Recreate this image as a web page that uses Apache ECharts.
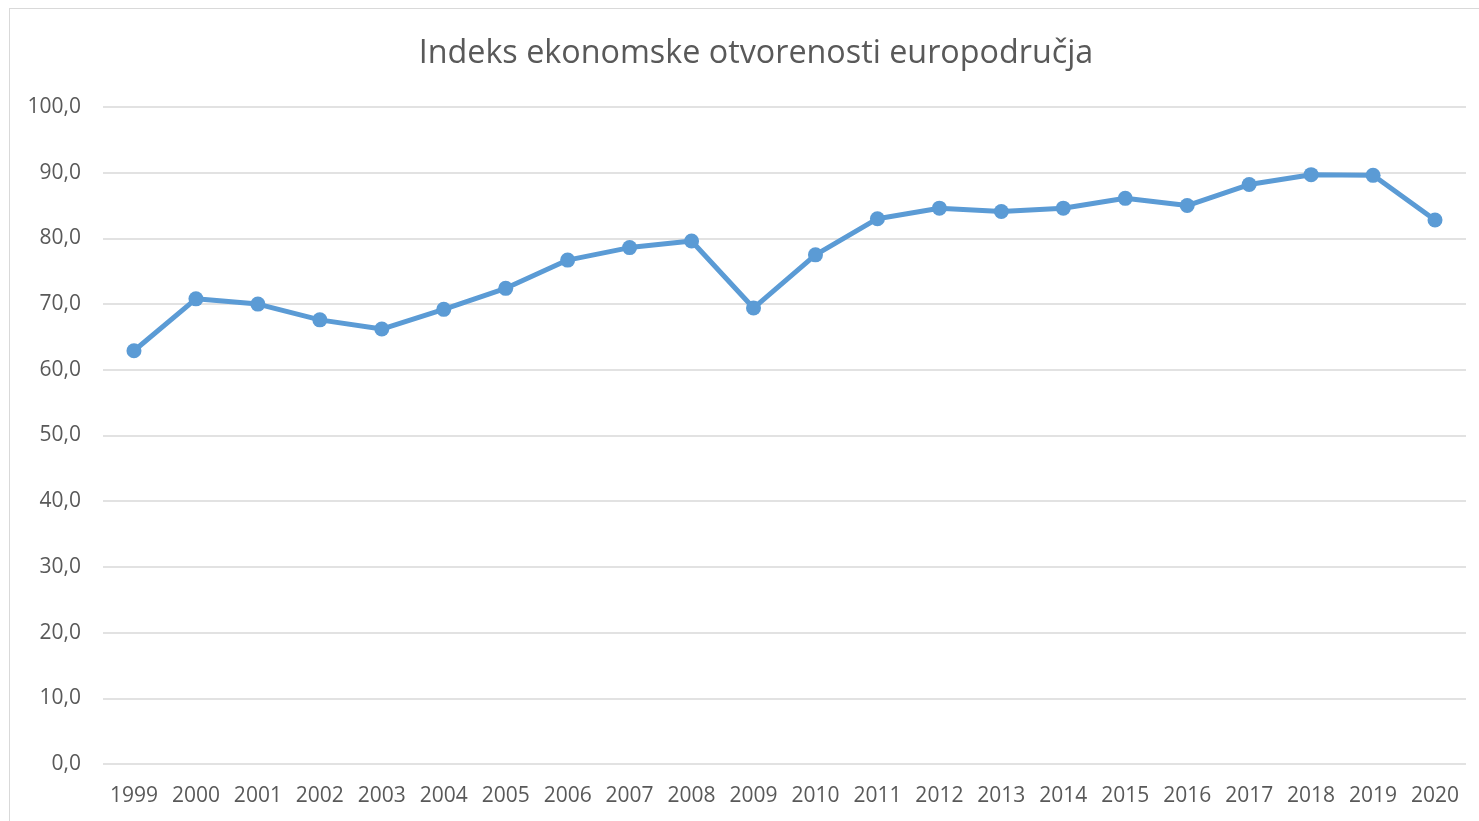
<!DOCTYPE html>
<html>
<head>
<meta charset="utf-8">
<script src="https://cdn.jsdelivr.net/npm/echarts@6/dist/echarts.min.js"></script>
<style>
    html,body{margin:0;padding:0;background:#fff;}
    #frame{
        position:absolute;left:9px;top:8px;width:1475px;height:820px;
        border:1px solid #d9d9d9;box-sizing:border-box;
    }
    #chart{position:absolute;left:0;top:0;width:1479px;height:821px;}
</style>
</head>
<body>
<div id="frame"></div>
<div id="chart"></div>
<script>
    var years=['1999','2000','2001','2002','2003','2004','2005','2006','2007','2008','2009',
        '2010','2011','2012','2013','2014','2015','2016','2017','2018','2019','2020'];
    var openness=[62.9,70.8,70.0,67.6,66.2,69.2,72.4,76.7,78.6,79.6,69.4,
        77.5,83.0,84.6,84.1,84.6,86.1,85.0,88.2,89.7,89.6,82.8];
    var yTicks={min:0,max:100,interval:10};

    var chart=echarts.init(document.getElementById('chart'));
    var txt='#595959';
    var font='"Open Sans", sans-serif';
    chart.setOption({
        animation:false,
        title:{
            left:751,
            textAlign:'center',
            top:33,
            text:'Indeks ekonomske otvorenosti europodručja',
            textStyle:{color:txt,fontSize:32.3,fontWeight:'normal',fontFamily:font}
        },
        grid:{left:103,right:13,top:107,bottom:57},
        xAxis:{
            type:'category',
            data:years,
            boundaryGap:true,
            axisLine:{show:false},
            axisTick:{show:false},
            axisLabel:{color:txt,fontSize:21,fontFamily:font,margin:22,interval:0}
        },
        yAxis:{
            type:'value',
            min:yTicks.min,
            max:yTicks.max,
            interval:yTicks.interval,
            axisLine:{show:false},
            axisTick:{show:false},
            splitLine:{lineStyle:{color:'#d9d9d9',width:1.5}},
            axisLabel:{
                color:txt,fontSize:21,fontFamily:font,margin:22,
                formatter:function(v){return v.toFixed(1).replace('.',',');}
            }
        },
        series:[{
            type:'line',
            data:openness,
            symbol:'circle',
            symbolSize:15,
            lineStyle:{color:'#5b9bd5',width:5},
            itemStyle:{color:'#5b9bd5'}
        }]
    });
    window.addEventListener('resize',chart.resize);
</script>
</body>
</html>
